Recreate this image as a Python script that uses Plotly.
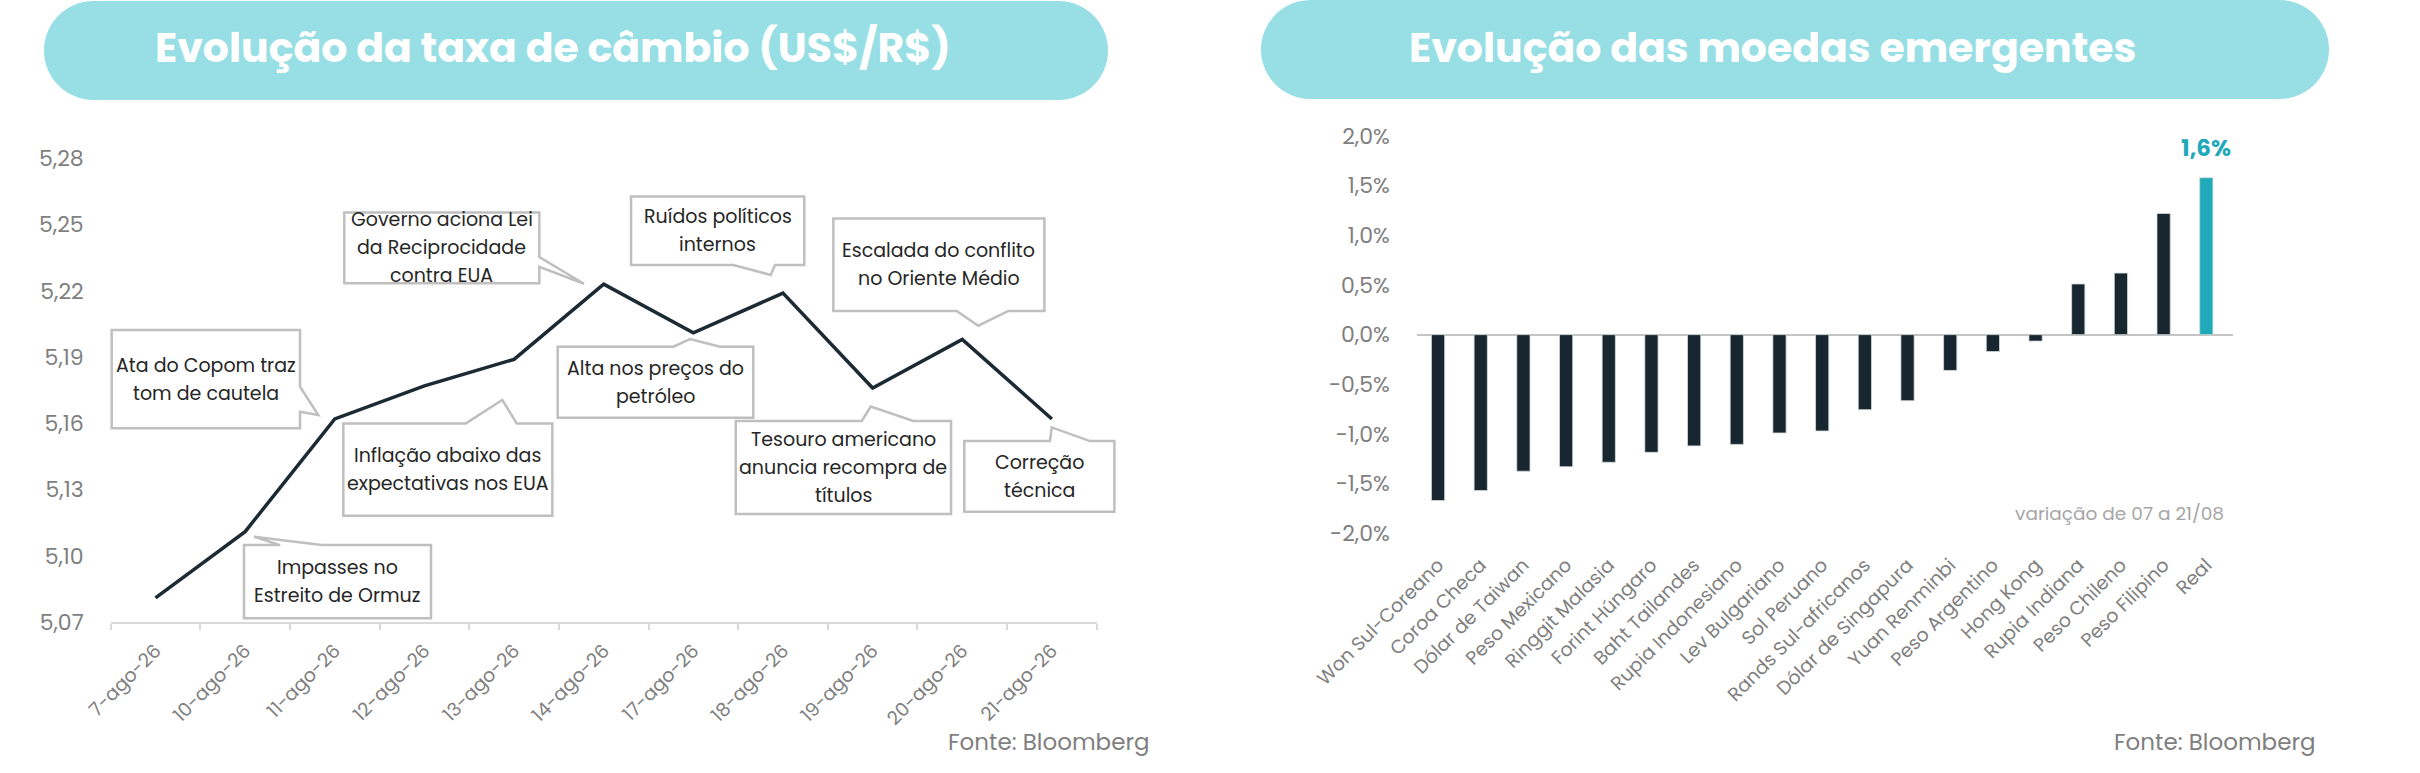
import plotly.graph_objects as go

W, H = 2420, 773
FONT = "Poppins, Inter, sans-serif"

# ---------------- left chart: US$/R$ ----------------
DATES = ["7-ago-26", "10-ago-26", "11-ago-26", "12-ago-26", "13-ago-26", "14-ago-26",
         "17-ago-26", "18-ago-26", "19-ago-26", "20-ago-26", "21-ago-26"]
USDBRL = [5.081, 5.111, 5.162, 5.177, 5.189, 5.223, 5.201, 5.219, 5.176, 5.198, 5.162]
Y_TICKS_LEFT = [5.07, 5.10, 5.13, 5.16, 5.19, 5.22, 5.25, 5.28]

EVENT_TEXTS = [
    ["Ata do Copom traz", "tom de cautela"],
    ["Governo aciona Lei", "da Reciprocidade", "contra EUA"],
    ["Inflação abaixo das", "expectativas nos EUA"],
    ["Impasses no", "Estreito de Ormuz"],
    ["Alta nos preços do", "petróleo"],
    ["Ruídos políticos", "internos"],
    ["Escalada do conflito", "no Oriente Médio"],
    ["Tesouro americano", "anuncia recompra de", "títulos"],
    ["Correção", "técnica"],
]

# ---------------- right chart: emerging currencies ----------------
CURRENCIES = ["Won Sul-Coreano", "Coroa Checa", "Dólar de Taiwan", "Peso Mexicano",
              "Ringgit Malasia", "Forint Húngaro", "Baht Tailandes", "Rupia Indonesiano",
              "Lev Bulgariano", "Sol Peruano", "Rands Sul-africanos", "Dólar de Singapura",
              "Yuan Renminbi", "Peso Argentino", "Hong Kong", "Rupia Indiana",
              "Peso Chileno", "Peso Filipino", "Real"]
CHANGE_PCT = [-1.67, -1.57, -1.375, -1.33, -1.285, -1.185, -1.12, -1.105, -0.99, -0.97,
              -0.755, -0.665, -0.36, -0.17, -0.065, 0.51, 0.62, 1.22, 1.58]
Y_TICKS_RIGHT = [-2.0, -1.5, -1.0, -0.5, 0.0, 0.5, 1.0, 1.5, 2.0]
HIGHLIGHT = "Real"
HIGHLIGHT_LABEL = "1,6%"

DARK = "#17262f"
TEAL = "#1fa9b9"
PILL = "#97dfe4"
GREY_TXT = "#7f7f7f"
BOX_LINE = "#bfbfbf"

# plot areas (pixels -> paper)
LX0, LX1, LY_TOP, LY_BOT = 110.7, 1096.7, 158.3, 622.2
RX0, RX1, RY_TOP, RY_BOT = 1416.7, 2233.3, 136.0, 533.3
L_XRANGE = [-0.5, len(DATES) - 0.5]
L_YRANGE = [Y_TICKS_LEFT[0], Y_TICKS_LEFT[-1]]


def px(x, y):
    return x / W, 1 - y / H


def left_to_paper(i, v):
    """Data coords of the left chart (category index, rate) -> paper coords."""
    fx = (i - L_XRANGE[0]) / (L_XRANGE[1] - L_XRANGE[0])
    fy = (v - L_YRANGE[0]) / (L_YRANGE[1] - L_YRANGE[0])
    return (LX0 + fx * (LX1 - LX0)) / W, 1 - (LY_BOT - fy * (LY_BOT - LY_TOP)) / H


# callout boxes in left-chart data units: box (x0, x1, y_bottom, y_top),
# side the pointer leaves from, and pointer points in drawing order
CALLOUTS = [
    dict(box=(-0.489, 1.612, 5.1578, 5.2023), side="right",
         ptr=[(1.612, 5.1766), (1.816, 5.1638), (1.612, 5.1653)]),
    dict(box=(2.106, 4.282, 5.2234, 5.2555), side="right",
         ptr=[(4.282, 5.2353), (4.78, 5.2232), (4.282, 5.2309)]),
    dict(box=(2.095, 4.427, 5.1182, 5.160), side="top",
         ptr=[(3.461, 5.160), (3.869, 5.1706), (4.030, 5.160)]),
    dict(box=(0.987, 3.073, 5.0718, 5.1049), side="top",
         ptr=[(1.389, 5.1049), (1.099, 5.1087), (1.854, 5.1049)]),
    dict(box=(4.487, 6.669, 5.1626, 5.1947), side="top",
         ptr=[(5.777, 5.1947), (5.963, 5.1982), (6.298, 5.1947)]),
    dict(box=(5.305, 7.238, 5.2317, 5.2627), side="bottom",
         ptr=[(6.911, 5.2317), (6.863, 5.2272), (6.446, 5.2317)]),
    dict(box=(7.562, 9.916, 5.2109, 5.2528), side="bottom",
         ptr=[(9.514, 5.2109), (9.179, 5.2042), (8.938, 5.2109)]),
    dict(box=(6.473, 8.875, 5.1190, 5.1611), side="top",
         ptr=[(7.879, 5.1611), (7.979, 5.1676), (8.454, 5.1611)]),
    dict(box=(9.023, 10.697, 5.1200, 5.1520), side="top",
         ptr=[(9.979, 5.1520), (9.998, 5.1582), (10.425, 5.1520)]),
]


def callout_path(c):
    x0, x1, yb, yt = c["box"]
    ptr = c["ptr"]
    pts = [(x0, yt)]
    if c["side"] == "top":
        pts += ptr
    pts.append((x1, yt))
    if c["side"] == "right":
        pts += ptr
    pts.append((x1, yb))
    if c["side"] == "bottom":
        pts += ptr
    pts.append((x0, yb))
    coords = [left_to_paper(a, b) for a, b in pts]
    return "M " + " L ".join(f"{a:.5f},{b:.5f}" for a, b in coords) + " Z"


def pill_path(x0, y0, x1, y1, r):
    k = 0.5523 * r
    p = [
        ("M", [(x0 + r, y0)]),
        ("L", [(x1 - r, y0)]),
        ("C", [(x1 - r + k, y0), (x1, y0 + r - k), (x1, y0 + r)]),
        ("L", [(x1, y1 - r)]),
        ("C", [(x1, y1 - r + k), (x1 - r + k, y1), (x1 - r, y1)]),
        ("L", [(x0 + r, y1)]),
        ("C", [(x0 + r - k, y1), (x0, y1 - r + k), (x0, y1 - r)]),
        ("L", [(x0, y0 + r)]),
        ("C", [(x0, y0 + r - k), (x0 + r - k, y0), (x0 + r, y0)]),
    ]
    out = []
    for cmd, pts in p:
        out.append(cmd + " " + " ".join("%.5f,%.5f" % px(a, b) for a, b in pts))
    return " ".join(out) + " Z"


def note(text, x, y, size, color, xanchor="center", bold=False, **kw):
    return dict(text=text, x=x, y=y, xref="paper", yref="paper", showarrow=False,
                xanchor=xanchor, yanchor="middle",
                font=dict(family=FONT, size=size, color=color,
                          weight="bold" if bold else "normal"), **kw)


fig = go.Figure()

fig.add_trace(
    go.Scatter(
        x=DATES,
        y=USDBRL,
        mode="lines",
        line=dict(color="#1b2a33", width=3.5),
        xaxis="x",
        yaxis="y",
        showlegend=False,
        hoverinfo="x+y",
    )
)

fig.add_trace(
    go.Bar(
        x=CURRENCIES,
        y=CHANGE_PCT,
        marker=dict(
            color=[TEAL if c == HIGHLIGHT else DARK for c in CURRENCIES],
            line=dict(color="#d5dadd", width=0.8),
        ),
        width=0.31,
        xaxis="x2",
        yaxis="y2",
        showlegend=False,
    )
)

shapes = [
    dict(type="path", path=pill_path(44, 1, 1108, 100, 49.5), xref="paper", yref="paper",
         fillcolor=PILL, line=dict(width=0), layer="below"),
    dict(type="path", path=pill_path(1261, 0, 2329, 99, 49.5), xref="paper", yref="paper",
         fillcolor=PILL, line=dict(width=0), layer="below"),
]
for c in CALLOUTS:
    shapes.append(dict(type="path", path=callout_path(c), xref="paper", yref="paper",
                       fillcolor="white", line=dict(color=BOX_LINE, width=2.5)))

annotations = [
    note("Evolução da taxa de câmbio (US$/R$)", 553 / W, 1 - 47 / H, 41, "white", bold=True),
    note("Evolução das moedas emergentes", 1772 / W, 1 - 47 / H, 41, "white", bold=True),
    note("Fonte: Bloomberg", 1152 / W, 1 - 742 / H, 23, GREY_TXT, xanchor="right"),
    note("Fonte: Bloomberg", 2318 / W, 1 - 742 / H, 23, GREY_TXT, xanchor="right"),
    note("variação de 07 a 21/08", 2226 / W, 1 - 513 / H, 18.5, "#a6a6a6", xanchor="right"),
    dict(text=HIGHLIGHT_LABEL, x=HIGHLIGHT, y=CHANGE_PCT[CURRENCIES.index(HIGHLIGHT)],
         xref="x2", yref="y2", xanchor="center", yanchor="bottom", yshift=12,
         showarrow=False, font=dict(family=FONT, size=23, color=TEAL, weight="bold")),
]

for c, lines in zip(CALLOUTS, EVENT_TEXTS):
    x0, x1, yb, yt = c["box"]
    cx, cy = left_to_paper((x0 + x1) / 2, (yb + yt) / 2)
    n = len(lines)
    for i, line in enumerate(lines):
        annotations.append(note(line, cx, cy, 19, "#262626",
                                yshift=-(i - (n - 1) / 2) * 28))

fig.update_layout(
    width=W,
    height=H,
    margin=dict(l=0, r=0, t=0, b=0, autoexpand=False),
    paper_bgcolor="white",
    plot_bgcolor="white",
    font=dict(family=FONT, color=GREY_TXT),
    shapes=shapes,
    annotations=annotations,
    xaxis=dict(
        domain=[LX0 / W, LX1 / W],
        type="category",
        range=L_XRANGE,
        tickson="boundaries",
        ticks="outside",
        ticklen=6,
        tickwidth=2,
        tickcolor="#d9d9d9",
        showline=True,
        linecolor="#d9d9d9",
        linewidth=2,
        showgrid=False,
        tickangle=-45,
        tickfont=dict(family=FONT, size=19, color=GREY_TXT),
        ticklabelstandoff=8,
        automargin=False,
        anchor="y",
    ),
    yaxis=dict(
        domain=[1 - LY_BOT / H, 1 - LY_TOP / H],
        range=L_YRANGE,
        tickvals=Y_TICKS_LEFT,
        ticktext=[f"{v:.2f}".replace(".", ",") for v in Y_TICKS_LEFT],
        showgrid=False,
        zeroline=False,
        showline=False,
        tickfont=dict(family=FONT, size=22, color=GREY_TXT),
        ticklabelstandoff=26,
        automargin=False,
        anchor="x",
    ),
    xaxis2=dict(
        domain=[RX0 / W, RX1 / W],
        type="category",
        showline=False,
        showgrid=False,
        ticks="",
        tickangle=-45,
        tickfont=dict(family=FONT, size=19, color=GREY_TXT),
        ticklabelstandoff=16,
        automargin=False,
        anchor="y2",
    ),
    yaxis2=dict(
        domain=[1 - RY_BOT / H, 1 - RY_TOP / H],
        range=[Y_TICKS_RIGHT[0], Y_TICKS_RIGHT[-1]],
        tickvals=Y_TICKS_RIGHT,
        ticktext=[f"{v:.1f}%".replace(".", ",") for v in Y_TICKS_RIGHT],
        showgrid=False,
        zeroline=True,
        zerolinecolor="#c4c4c4",
        zerolinewidth=1.5,
        showline=False,
        tickfont=dict(family=FONT, size=22, color=GREY_TXT),
        ticklabelstandoff=26,
        automargin=False,
        anchor="x2",
    ),
)

# the page's default body margin would push the 2420px figure off by 8px
fig.write_html(
    "out.html",
    config={"displayModeBar": False},
    post_script="document.body.style.margin = '0px';",
)
